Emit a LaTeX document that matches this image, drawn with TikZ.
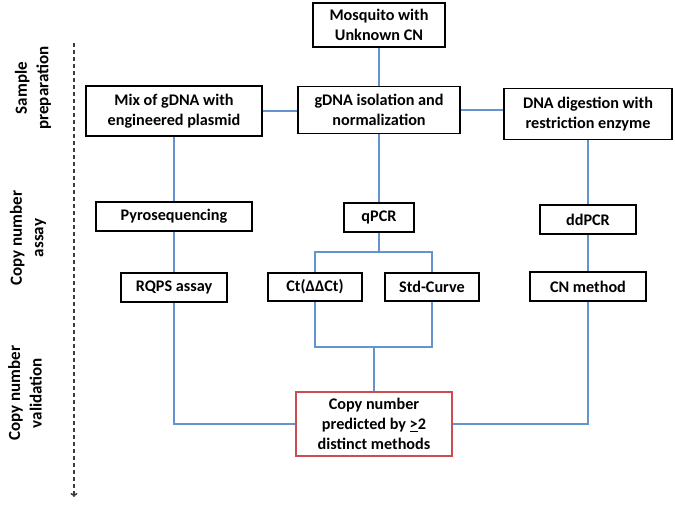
\documentclass[tikz,border=0pt]{standalone}
\usepackage{fontspec}
\setmainfont{Carlito}
\usetikzlibrary{arrows.meta}
\definecolor{linkblue}{RGB}{100,148,205}
\definecolor{redb}{RGB}{200,78,84}
\definecolor{dashgray}{RGB}{60,60,60}
\begin{document}
\begin{tikzpicture}[x=1pt,y=-1pt,
  box/.style={draw=black,line width=1.8pt,align=center,inner sep=0pt,font=\fontsize{16.2}{20}\selectfont\bfseries},
  link/.style={draw=linkblue,line width=1.3pt},
  lab/.style={rotate=90,align=center,inner sep=0pt,font=\fontsize{17}{21.5}\selectfont\bfseries}]
\useasboundingbox (0,0) rectangle (675,504);

% boxes
\node[box,minimum width=132pt,minimum height=44pt] (mosq) at (379,25) {Mosquito with\\Unknown CN};
\node[box,minimum width=176pt,minimum height=50pt] (mix) at (174,111) {Mix of gDNA with\\engineered plasmid};
\node[box,minimum width=162pt,minimum height=47pt] (gdna) at (379,110) {gDNA isolation and\\normalization};
\node[box,minimum width=168pt,minimum height=51pt] (dig) at (588,114) {DNA digestion with\\restriction enzyme};

\node[box,minimum width=156pt,minimum height=29pt] (pyro) at (174,216.5) {Pyrosequencing};
\node[box,minimum width=70pt,minimum height=29pt] (qpcr) at (379,217.5) {qPCR};
\node[box,minimum width=96pt,minimum height=29pt] (ddpcr) at (588,219.5) {ddPCR};

\node[box,minimum width=106pt,minimum height=29pt] (rqps) at (174,287.5) {RQPS assay};
\node[box,minimum width=94pt,minimum height=28pt] (ct) at (315,287) {Ct(ΔΔCt)};
\node[box,minimum width=94pt,minimum height=28pt] (std) at (432,287) {Std-Curve};
\node[box,minimum width=116pt,minimum height=29pt] (cnm) at (588,286.5) {CN method};

\node[box,draw=redb,minimum width=156pt,minimum height=64pt] (res) at (374,424) {Copy number\\predicted by \underline{>}2\\distinct methods};

% connectors
\draw[link] (mosq.south) -- (mosq.south |- gdna.north);
\draw[link] (mix.east) -- (mix.east -| gdna.west);
\draw[link] (gdna.east) -- (gdna.east -| dig.west);
\draw[link] (mix.south) -- (mix.south |- pyro.north);
\draw[link] (gdna.south) -- (gdna.south |- qpcr.north);
\draw[link] (dig.south) -- (dig.south |- ddpcr.north);
\draw[link] (pyro.south) -- (pyro.south |- rqps.north);
\draw[link] (ddpcr.south) -- (ddpcr.south |- cnm.north);

\coordinate (qs) at (379,252);
\draw[link] (qpcr.south) -- (qpcr.south |- qs);
\draw[link] (ct.north) -- (ct.north |- qs) -- (std.north |- qs) -- (std.north);

\coordinate (ms) at (374,347);
\draw[link] (ct.south) -- (ct.south |- ms) -- (std.south |- ms) -- (std.south);
\draw[link] (res.north) -- (res.north |- ms);

\draw[link] (rqps.south) |- (res.west);
\draw[link] (cnm.south) |- (res.east);

% left axis
\coordinate (dtop) at (74,43);
\coordinate (dbot) at (74,497);
\draw[draw=dashgray,line width=1.5pt,dash pattern=on 4pt off 3pt,-{To[length=4pt,width=7pt]}] (dtop) -- (dbot);

\node[lab] (l1) at (33,88) {Sample\\preparation};
\node[lab] (l2) at (28,238) {Copy number\\assay};
\node[lab] (l3) at (25,393) {Copy number\\validation};
\end{tikzpicture}
\end{document}
